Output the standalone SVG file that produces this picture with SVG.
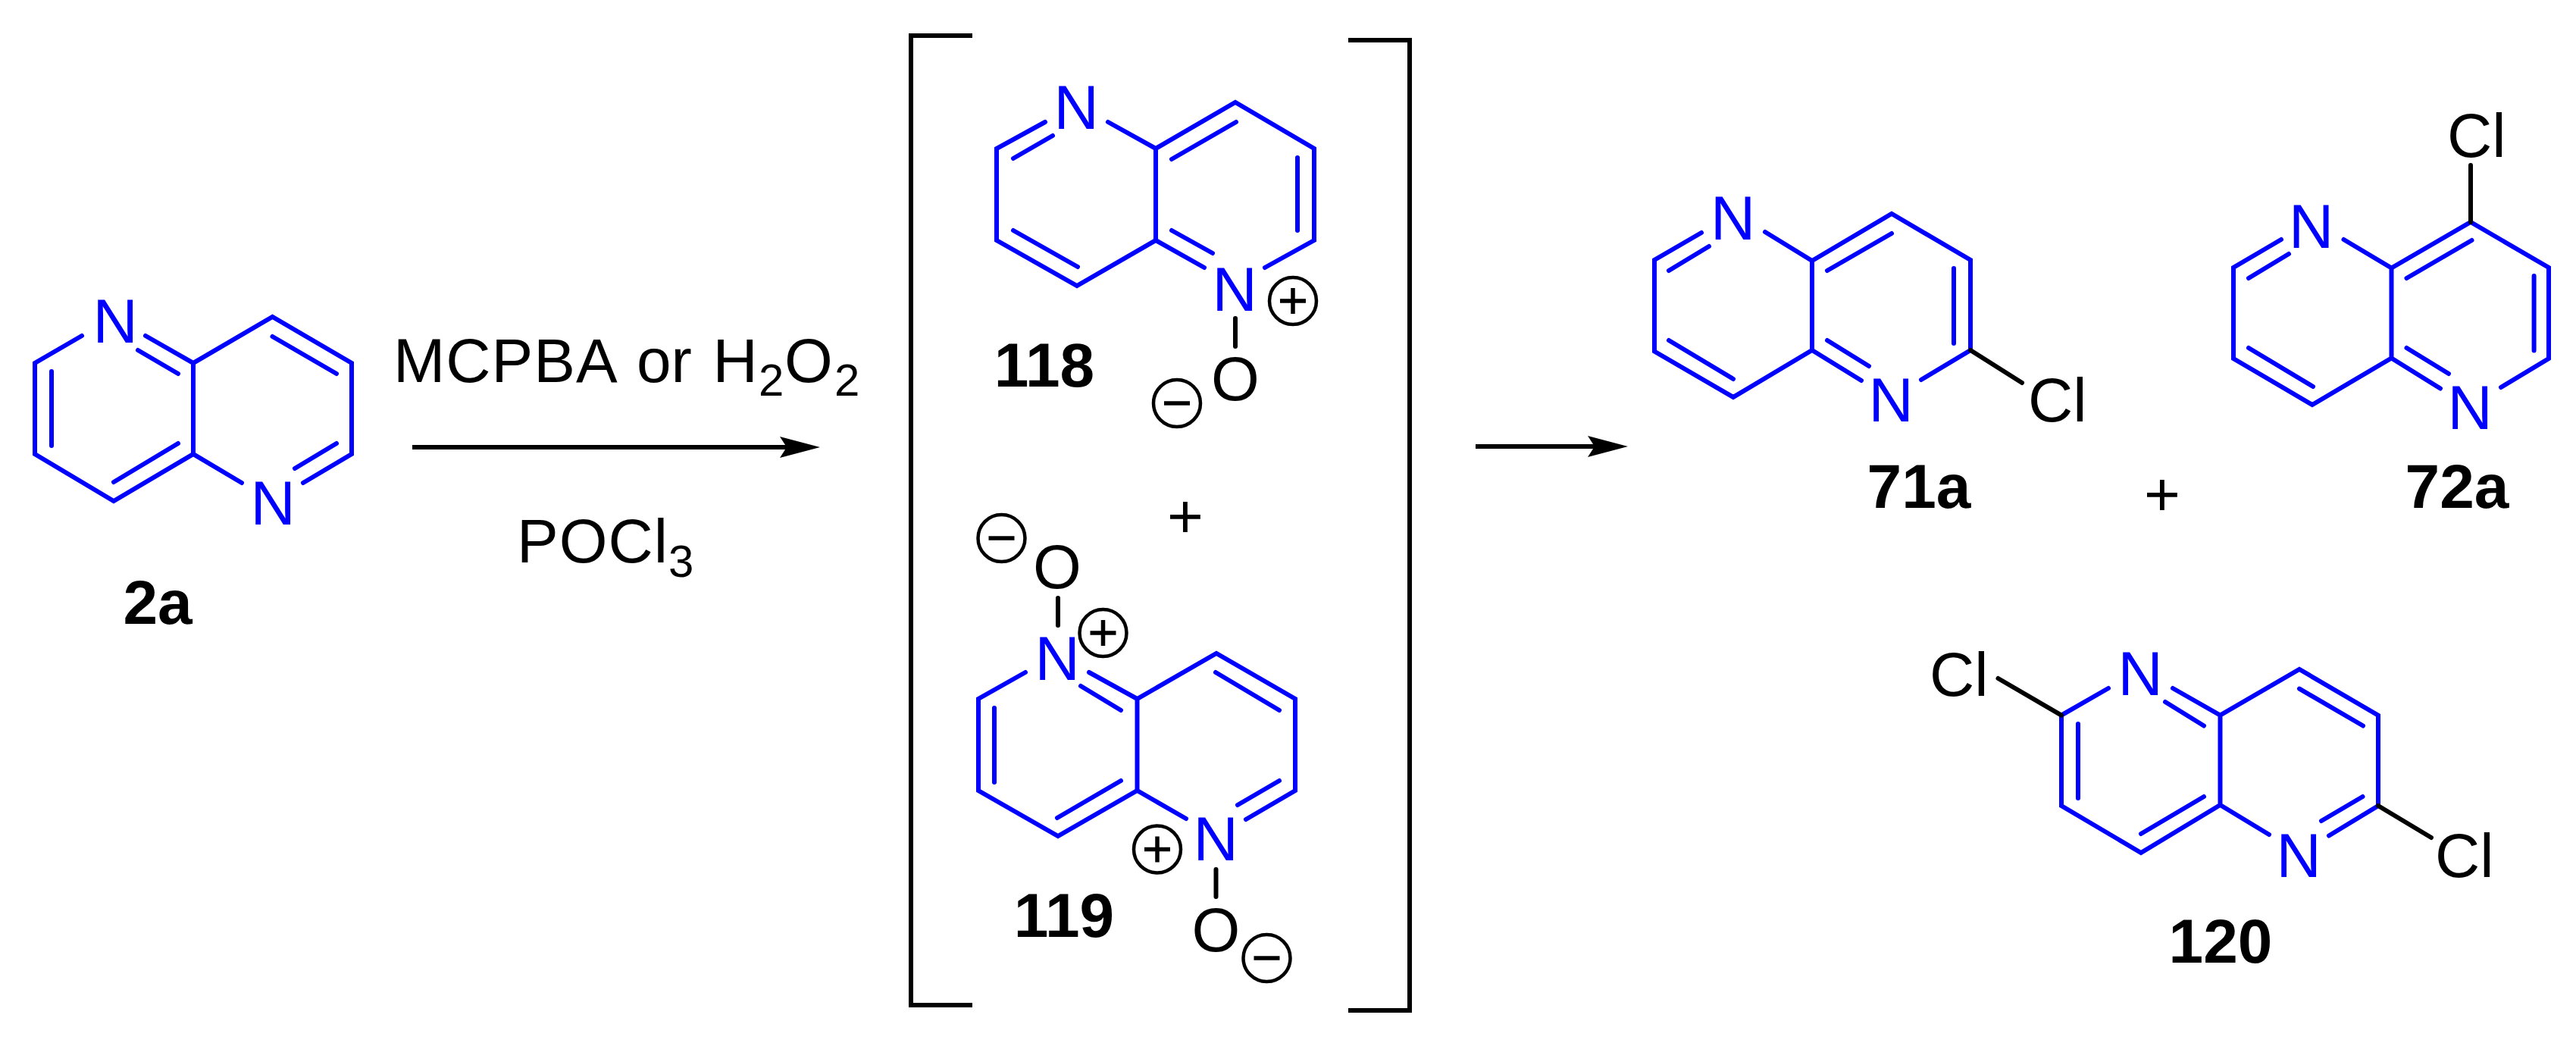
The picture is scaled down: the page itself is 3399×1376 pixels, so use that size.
<svg xmlns="http://www.w3.org/2000/svg" xmlns:xlink="http://www.w3.org/1999/xlink" width="3399" height="1376" viewBox="0 0 3399 1376">
<style>
text{font-family:"Liberation Sans",Arial,sans-serif;font-size:82px;fill:#000}
.m{text-anchor:middle}
.b{font-weight:bold}
.n{fill:#0000ff}
.bl{fill:none;stroke:#0000ff;stroke-width:6;stroke-linecap:round;stroke-linejoin:miter}
.k{fill:none;stroke:#000;stroke-width:6;stroke-linecap:round}
.br{fill:none;stroke:#000;stroke-width:6}
.ch{fill:none;stroke:#000;stroke-width:4.500}
.ln{fill:none;stroke:#000;stroke-width:6}
.s{font-size:60px}
</style>
<defs>
<g id="pos"><circle class="ch" r="31"/><path class="ch" style="stroke-width:5.500" d="M-17,0H17M0,-17V17"/></g>
<g id="neg"><circle class="ch" r="31"/><path class="ch" style="stroke-width:5.500" d="M-17,0H17"/></g>
<path id="head" d="M0,0L-53,-14L-44,0L-53,14Z" fill="#000"/>
</defs>
<rect width="3399" height="1376" fill="#fff"/>

<g id="connectors">
<path class="ln" d="M544,590H1040"/><use xlink:href="#head" x="1082" y="590"/>
<path class="ln" d="M1947,589H2110"/><use xlink:href="#head" x="2148" y="589"/>
</g>

<g id="node-2a">
<path class="bl" d="M108,443L46,479V599L150,661L255,599L319,637M192,443L255,479L359.500,418L464,479V599L400,637M255,479V599M182,462L235,493M68,490V588M359.500,444L444,493M235,585L150,636M444,585L389,618"/>
<text class="m n" x="152" y="452">N</text>
<text class="m n" x="360" y="692">N</text>
<text class="m b" x="208" y="823">2a</text>
</g>

<g id="reagents">
<text x="519" y="504"><tspan letter-spacing="1">MCPBA</tspan> <tspan x="840">or</tspan> <tspan x="940.500">H</tspan><tspan class="s" x="1001" dy="18">2</tspan><tspan x="1035" dy="-18">O</tspan><tspan class="s" x="1101" dy="18">2</tspan></text>
<text x="682" y="742" letter-spacing="1">POCl<tspan class="s" dy="19">3</tspan></text>
</g>

<g id="brackets">
<path class="br" d="M1283,47H1202V1326H1283"/>
<path class="br" d="M1779,53H1860V1333H1779"/>
</g>

<g id="node-118">
<path class="bl" d="M1379,161L1315,196V317L1421,377L1525,317L1589,353M1462,161L1525,196L1630,135L1734,196V317L1669,353M1525,196V317M1389,179L1337,209M1337,304L1422,352M1546,304L1600,334M1546,210L1631,161M1712,208V304"/>
<path class="k" d="M1630,420V457"/>
<text class="m n" x="1420" y="170">N</text>
<text class="m n" x="1629" y="410">N</text>
<text class="m" x="1630" y="528">O</text>
<use xlink:href="#pos" x="1706" y="397"/>
<use xlink:href="#neg" x="1553" y="532"/>
<text class="m b" x="1378" y="510">118</text>
</g>

<text id="plus-1" class="m" x="1564" y="709">+</text>

<g id="node-119">
<path class="bl" d="M1353,887L1291,922V1043L1396,1103L1500.500,1043L1565,1080M1437,887L1500.500,922L1605,862L1709,922V1043L1644,1081M1500.500,922V1043M1426,905L1479,937M1604,887L1688,937M1312,934V1032M1479,1030L1395,1079M1688,1030L1633,1062"/>
<path class="k" d="M1396,789V825M1604.500,1147V1183"/>
<text class="m n" x="1395" y="897">N</text>
<text class="m n" x="1604" y="1135">N</text>
<text class="m" x="1395" y="776">O</text>
<text class="m" x="1604.500" y="1255">O</text>
<use xlink:href="#neg" x="1321.500" y="710"/>
<use xlink:href="#pos" x="1455.500" y="835"/>
<use xlink:href="#pos" x="1527" y="1120.500"/>
<use xlink:href="#neg" x="1671.500" y="1264"/>
<text class="m b" x="1404" y="1236">119</text>
</g>

<g id="node-71a">
<path class="bl" d="M2245,307L2183,343V463.500L2287,524L2391,462L2456,502M2329,306L2391,344L2496,282L2600,343V462L2535,501M2391,344V462M2255,325L2202,357M2202,449L2287,500M2411,449L2466,483M2411,357L2496,308M2578,354V453"/>
<path class="k" d="M2600,462L2668,505"/>
<text class="m n" x="2286.500" y="316">N</text>
<text class="m n" x="2495" y="556">N</text>
<text x="2676" y="556">Cl</text>
<text class="m b" x="2532" y="670">71a</text>
</g>

<text id="plus-2" class="m" x="2853" y="680">+</text>

<g id="node-72a">
<path class="bl" d="M3010,316L2947,353V473L3051,534L3155.500,472.500L3220,512.500M3092.500,316L3155.500,353.500L3260,293L3363,353V473L3300,511M3155.500,353.500V472.500M3020,335L2967,367M2967,459L3052,510M3175.500,459L3231,493M3175.500,367L3261.500,317M3343.600,364V462.500"/>
<path class="k" d="M3260,218V293"/>
<text class="m n" x="3049.500" y="327">N</text>
<text class="m n" x="3259" y="566">N</text>
<text x="3229" y="207">Cl</text>
<text class="m b" x="3242" y="670">72a</text>
</g>

<g id="node-120">
<path class="bl" d="M2782,908L2720,943.600V1063L2825,1125L2929.500,1062L2994,1101M2867,908L2929.500,943.600L3034,883L3138,943.600V1063L3073,1102.500M2929.500,943.600V1062M2857,926L2908,957.500M3034,908.600L3118,957.500M2742,955V1053M2908,1051L2825,1100M3117.500,1051L3063,1083"/>
<path class="k" d="M2636.500,895L2720,943.600M3138,1063L3208,1105"/>
<text class="m n" x="2824" y="917">N</text>
<text class="m n" x="3033" y="1157">N</text>
<text x="2546" y="918">Cl</text>
<text x="3213" y="1157">Cl</text>
<text class="m b" x="2930" y="1270">120</text>
</g>
</svg>
